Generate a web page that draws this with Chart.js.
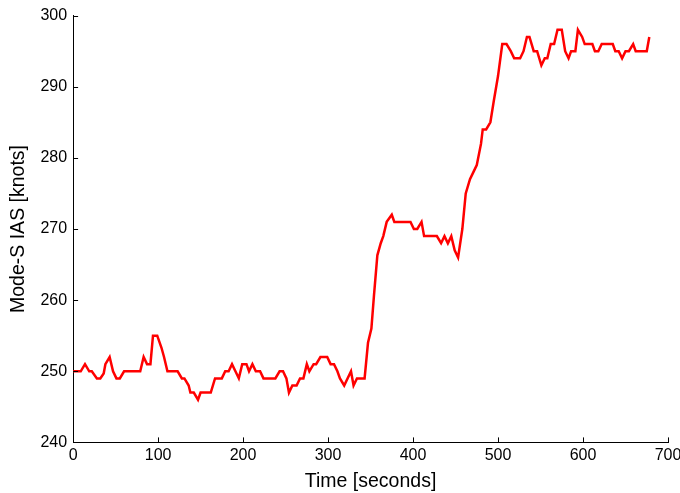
<!DOCTYPE html>
<html>
<head>
<meta charset="utf-8">
<script src="https://cdn.jsdelivr.net/npm/chart.js@4/dist/chart.umd.min.js"></script>
<style>
  html, body { margin: 0; padding: 0; background: #fff; }
  #wrap { width: 680px; height: 493px; }
</style>
</head>
<body>
<div id="wrap"><canvas id="iasChart" width="680" height="493"></canvas></div>
<script>
// time [s] and Mode-S IAS [knots]
const timeSec = [0, 9, 14, 19, 22, 28, 32, 36, 38, 43, 47, 51, 55, 60, 79, 83, 87, 91, 94, 99,
  104, 107, 111, 123, 128, 131, 136, 138, 142, 147, 150, 162, 167, 175, 179, 183, 187, 191, 195, 199,
  204, 207, 211, 215, 220, 224, 238, 243, 247, 251, 254, 258, 263, 267, 271, 275, 278, 283, 286, 291,
  299, 303, 307, 311, 314, 319, 327, 330, 334, 343, 347, 351, 354, 358, 362, 365, 369, 375, 378, 397,
  401, 405, 410, 413, 428, 433, 437, 441, 445, 449, 453, 458, 462, 467, 471, 475, 480, 482, 486, 491,
  495, 500, 505, 510, 515, 519, 526, 530, 534, 537, 542, 546, 551, 555, 558, 562, 566, 570, 575, 579,
  583, 586, 591, 594, 599, 602, 611, 614, 618, 622, 635, 638, 642, 646, 650, 654, 659, 662, 675, 678];
const iasKnots = [250, 250, 251, 250, 250, 249, 249, 249.7, 251, 252, 250, 249, 249, 250, 250, 252, 251, 251, 255, 255,
  253.3, 252, 250, 250, 249, 249, 248, 247, 247, 246, 247, 247, 249, 249, 250, 250, 251, 250, 249, 251,
  251, 250, 251, 250, 250, 249, 249, 250, 250, 249, 247, 248, 248, 249, 249, 251, 250, 251, 251, 252,
  252, 251, 251, 250, 249, 248, 250, 248, 249, 249, 254, 256, 260.6, 266.3, 268, 269, 271, 272, 271, 271,
  270, 270, 271, 269, 269, 268, 269, 268, 269, 267, 266, 270, 275, 277, 278, 279, 282, 284, 284, 285,
  288, 291.5, 296, 296, 295, 294, 294, 295, 297, 297, 295, 295, 293, 294, 294, 296, 296, 298, 298, 295,
  294, 295, 295, 298, 297, 296, 296, 295, 295, 296, 296, 295, 295, 294, 295, 295, 296, 295, 295, 297];

const xTicks = [0, 100, 200, 300, 400, 500, 600, 700];
const yTicks = [240, 250, 260, 270, 280, 290, 300];

const points = timeSec.map((t, i) => ({ x: t, y: iasKnots[i] }));
const font = 'Liberation Sans, Arial, sans-serif';

// MATLAB style inward tick marks
const inwardTicks = {
  id: 'inwardTicks',
  afterDraw(chart) {
    const { ctx, chartArea, scales } = chart;
    ctx.save();
    ctx.strokeStyle = '#000';
    ctx.lineWidth = 1;
    ctx.beginPath();
    xTicks.forEach(v => {
      const px = Math.round(scales.x.getPixelForValue(v)) + 0.5;
      ctx.moveTo(px, chartArea.bottom);
      ctx.lineTo(px, chartArea.bottom - 5);
    });
    yTicks.forEach(v => {
      const py = Math.round(scales.y.getPixelForValue(v)) + 0.5;
      ctx.moveTo(chartArea.left, py);
      ctx.lineTo(chartArea.left + 5, py);
    });
    ctx.stroke();
    ctx.restore();
  }
};

new Chart(document.getElementById('iasChart'), {
  type: 'scatter',
  data: {
    datasets: [{
      data: points,
      showLine: true,
      borderColor: '#ff0000',
      borderWidth: 2.5,
      pointRadius: 0,
      tension: 0
    }]
  },
  options: {
    responsive: false,
    animation: false,
    layout: { padding: { top: 8, right: 12, left: 7, bottom: 0 } },
    plugins: { legend: { display: false }, tooltip: { enabled: false } },
    scales: {
      x: {
        type: 'linear',
        min: 0,
        max: 700,
        afterBuildTicks(s) { s.ticks = xTicks.map(v => ({ value: v })); },
        afterFit(s) { s.paddingRight = 0; },
        grid: { display: false, drawTicks: false },
        border: { display: true, color: '#000', width: 1 },
        ticks: { color: '#000', font: { family: font, size: 16 }, padding: 4, maxRotation: 0 },
        title: { display: true, text: 'Time [seconds]', color: '#000', font: { family: font, size: 19.5 }, padding: { top: 0, bottom: 0 } }
      },
      y: {
        type: 'linear',
        min: 240,
        max: 300,
        afterBuildTicks(s) { s.ticks = yTicks.map(v => ({ value: v })); },
        grid: { display: false, drawTicks: false },
        border: { display: true, color: '#000', width: 1 },
        ticks: { color: '#000', font: { family: font, size: 16 }, padding: 6 },
        title: { display: true, text: 'Mode-S IAS [knots]', color: '#000', font: { family: font, size: 19.5 }, padding: { top: 0, bottom: 4 } }
      }
    }
  },
  plugins: [inwardTicks]
});
</script>
</body>
</html>
